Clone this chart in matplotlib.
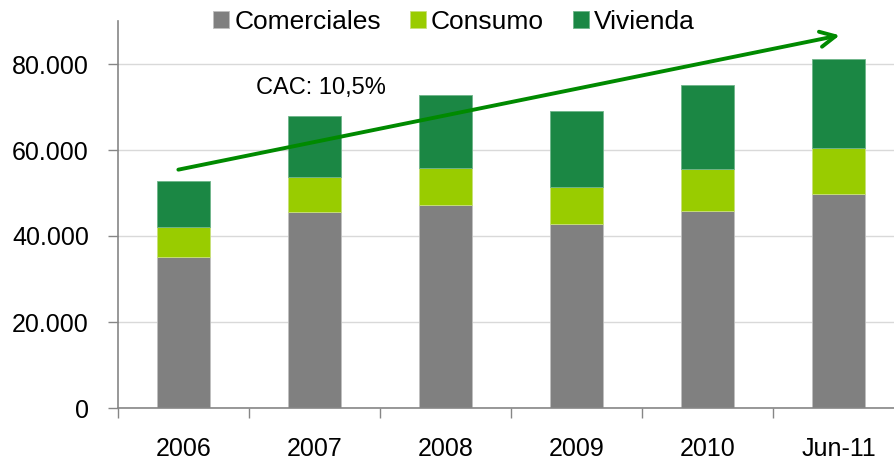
import numpy as np
import matplotlib
matplotlib.use("Agg")
import matplotlib.pyplot as plt

plt.rcParams["font.family"] = ["Liberation Sans", "DejaVu Sans"]

# colores
GRIS = "#808080"
VERDE_CLARO = "#99CC00"
VERDE_OSCURO = "#1B8744"
VERDE_FLECHA = "#008A00"

# datos
periodos = ["2006", "2007", "2008", "2009", "2010", "Jun-11"]
comerciales = np.array([35200, 45500, 47200, 42700, 45700, 49800])
consumo = np.array([6900, 8200, 8700, 8700, 9800, 10600])
vivienda = np.array([10800, 14300, 16900, 17700, 19500, 20800])

fig = plt.figure(figsize=(8.94, 4.62), dpi=100)
ax = fig.add_axes([118 / 894, 1 - 408 / 462, (904 - 118) / 894, (408 - 21) / 462])

x = np.arange(len(periodos))
ancho = 0.4
ax.bar(x, comerciales, width=ancho, color=GRIS, edgecolor="#bfbfbf", linewidth=0.6,
       label="Comerciales", zorder=2)
ax.bar(x, consumo, width=ancho, bottom=comerciales, color=VERDE_CLARO,
       edgecolor="#c8e07a", linewidth=0.6, label="Consumo", zorder=2)
ax.bar(x, vivienda, width=ancho, bottom=comerciales + consumo, color=VERDE_OSCURO,
       edgecolor="#6fb58a", linewidth=0.6, label="Vivienda", zorder=2)

ax.set_xlim(-0.5, len(periodos) - 0.5)
ax.set_ylim(0, 90000)
ax.set_yticks([0, 20000, 40000, 60000, 80000])
ax.set_yticklabels(["0", "20.000", "40.000", "60.000", "80.000"], fontsize=18)
ax.yaxis.grid(True, color="#d9d9d9", linewidth=1, zorder=0)
ax.set_axisbelow(True)

# etiquetas de categoria centradas, ticks en los limites
ax.set_xticks(x)
ax.set_xticklabels(periodos, fontsize=18)
ax.tick_params(axis="x", length=0, pad=21)
ax.set_xticks(np.arange(len(periodos)) - 0.5, minor=True)
ax.tick_params(axis="x", which="minor", length=7, color="#868686", width=1)
ax.tick_params(axis="y", length=7, color="#868686", width=1, pad=14)

for lado in ["top", "right"]:
    ax.spines[lado].set_visible(False)
for lado in ["left", "bottom"]:
    ax.spines[lado].set_color("#868686")
    ax.spines[lado].set_linewidth(1.2)

# flecha de tendencia
ax.annotate("", xy=(5.03, 86800), xytext=(-0.06, 55300),
            arrowprops=dict(arrowstyle="->,head_length=1.1,head_width=0.55",
                            color=VERDE_FLECHA, lw=2.8), zorder=3)
ax.text(1.05, 74400, "CAC: 10,5%", ha="center", va="center", fontsize=17)

leg = fig.legend(loc="upper center", bbox_to_anchor=(0.508, 1.03), ncol=3, frameon=False,
                 fontsize=19, handlelength=0.6, handleheight=0.6, handletextpad=0.2,
                 columnspacing=1.1)

fig.savefig("out.png", dpi=100)
